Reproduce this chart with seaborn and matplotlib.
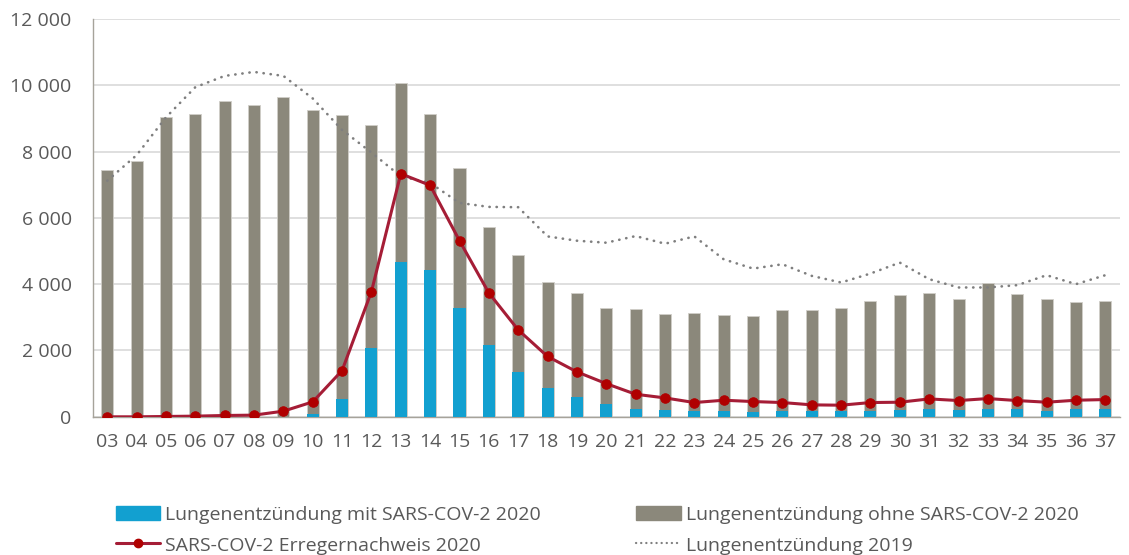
import matplotlib.pyplot as plt
import matplotlib.ticker as mticker
from matplotlib.patches import Patch
from matplotlib.lines import Line2D
import seaborn as sns
import numpy as np
import pandas as pd

weeks = [f"{w:02d}" for w in range(3, 38)]

# Lungenentzündung mit SARS-COV-2 2020 (blue part of the stack)
mit_sars = [0, 0, 0, 0, 0, 0, 0, 80, 530, 2070, 4660, 4420, 3270, 2160, 1345,
            860, 595, 400, 250, 220, 170, 190, 150, 190, 160, 160, 190, 210,
            250, 220, 250, 240, 190, 230, 230]
# Lungenentzündung ohne SARS-COV-2 2020 (grey part, on top of the blue one)
ohne_sars = [7450, 7700, 9030, 9140, 9530, 9400, 9640, 9180, 8570, 6730, 5420,
             4720, 4240, 3550, 3535, 3200, 3140, 2895, 3005, 2880, 2950, 2870,
             2880, 3030, 3060, 3135, 3315, 3475, 3485, 3325, 3795, 3455, 3355,
             3235, 3265]
# SARS-COV-2 Erregernachweis 2020
nachweis = [0, 0, 10, 20, 40, 50, 170, 450, 1395, 3775, 7330, 6980, 5310, 3735,
            2620, 1820, 1355, 1000, 680, 570, 430, 500, 460, 430, 360, 350, 430,
            440, 540, 490, 550, 490, 440, 500, 520]
# Lungenentzündung 2019
lunge_2019 = [7120, 7890, 9030, 9940, 10280, 10400, 10280, 9600, 8650, 7970,
              7250, 7050, 6450, 6330, 6320, 5440, 5310, 5250, 5450, 5220, 5440,
              4750, 4470, 4600, 4250, 4050, 4320, 4650, 4150, 3900, 3900, 3970,
              4270, 4000, 4270]

BLUE = "#12a0d0"
GREY = "#8b887b"
RED_LINE = "#a51d36"
RED_MARK = "#b00000"
DOT = "#7f7f7f"
TEXT = "#595959"

df = pd.DataFrame({
    "week": weeks,
    "mit": mit_sars,
    "gesamt": np.array(mit_sars) + np.array(ohne_sars),
    "nachweis": nachweis,
    "l2019": lunge_2019,
})
df["pos"] = np.arange(len(df))

sns.set_theme(style="white")
plt.rcParams["font.family"] = ["Open Sans", "DejaVu Sans"]

fig = plt.figure(figsize=(11.29, 5.55), dpi=100)
ax = fig.add_axes([0.082, 0.249, 0.91, 0.717])

sns.barplot(data=df, x="pos", y="gesamt", color=GREY, width=0.41,
            saturation=1, edgecolor="#d0cec8", linewidth=0.6, ax=ax, zorder=2)
sns.barplot(data=df, x="pos", y="mit", color=BLUE, width=0.41,
            saturation=1, edgecolor="none", ax=ax, zorder=3)
sns.lineplot(data=df, x="pos", y="l2019", color=DOT, linestyle=(0, (0.1, 2.6)),
             linewidth=1.9, dash_capstyle="round", ax=ax, zorder=4)
sns.lineplot(data=df, x="pos", y="nachweis", color=RED_LINE, linewidth=2.2,
             marker="o", markersize=6.8, markerfacecolor=RED_MARK,
             markeredgecolor=RED_MARK, ax=ax, zorder=5)

ax.set_xlim(-0.5, len(weeks) - 0.5)
ax.set_ylim(0, 12000)
ax.set_xticks(df["pos"])
ax.set_xticklabels(weeks)
ax.yaxis.set_major_locator(mticker.MultipleLocator(2000))
ax.yaxis.set_major_formatter(
    mticker.FuncFormatter(lambda v, p: f"{int(v):,}".replace(",", " ")))
ax.set_xlabel("")
ax.set_ylabel("")
ax.grid(axis="y", color="#d9d9d9", linewidth=1.2, zorder=0)
ax.set_axisbelow(True)
for s in ["top", "right"]:
    ax.spines[s].set_visible(False)
for s in ["left", "bottom"]:
    ax.spines[s].set_color("#a6a39a")
    ax.spines[s].set_linewidth(1)
ax.tick_params(axis="both", length=0, labelsize=14, colors=TEXT)
ax.tick_params(axis="x", pad=12)
ax.tick_params(axis="y", pad=15)

handles = [
    Patch(color=BLUE, label="Lungenentzündung mit SARS-COV-2 2020"),
    Line2D([], [], color=RED_LINE, linewidth=2.2, marker="o", markersize=6,
           markerfacecolor=RED_MARK, markeredgecolor=RED_MARK,
           label="SARS-COV-2 Erregernachweis 2020"),
    Patch(color=GREY, label="Lungenentzündung ohne SARS-COV-2 2020"),
    Line2D([], [], color=DOT, linestyle=(0, (0.1, 2.2)), linewidth=1.6,
           dash_capstyle="round", label="Lungenentzündung 2019"),
]
fig.legend(handles=handles, ncol=2, loc="center", bbox_to_anchor=(0.529, 0.045),
           frameon=False, fontsize=14, labelcolor=TEXT,
           handlelength=2.3, handleheight=0.8, handletextpad=0.25,
           columnspacing=4.9, labelspacing=0.65)

fig.savefig("out.png", dpi=100)
